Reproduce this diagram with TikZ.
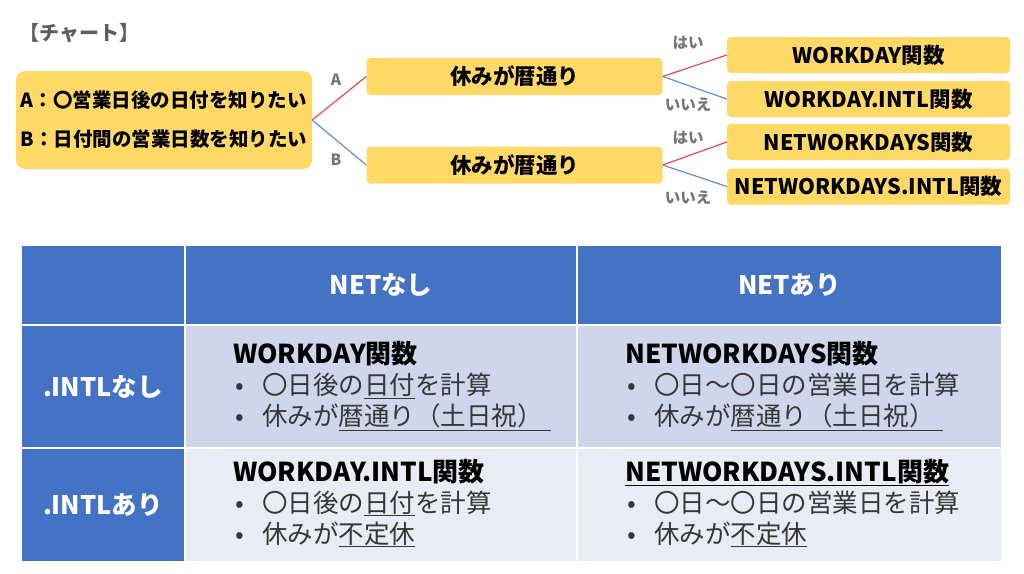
\documentclass[tikz,border=0pt]{standalone}
\usepackage{fontspec}
\setmainfont{Noto Sans CJK JP}
\usepackage{tikz}
\definecolor{boxyellow}{RGB}{255,217,102}
\definecolor{linered}{RGB}{245,70,80}
\definecolor{lineblue}{RGB}{100,140,215}
\definecolor{headblue}{RGB}{68,114,196}
\definecolor{rowone}{RGB}{207,213,234}
\definecolor{rowtwo}{RGB}{233,235,245}
\definecolor{labgray}{RGB}{118,118,118}
\definecolor{bodytext}{RGB}{55,55,55}
\newcommand{\bul}{\makebox[29pt][l]{\hspace{2pt}•}}
\tikzset{
	ybox/.style={rectangle,rounded corners=4pt,fill=boxyellow,inner sep=0pt,font=\bfseries\fontsize{21.5}{25}\selectfont},
	qbox/.style={ybox,rounded corners=9pt,align=left,font=\bfseries\fontsize{19.5}{39}\selectfont},
	redline/.style={draw=linered,line width=1.2pt},
	blueline/.style={draw=lineblue,line width=1.2pt},
	lab/.style={text=labgray,inner sep=0pt,font=\bfseries\fontsize{15.5}{18}\selectfont},
	cell/.style={rectangle,draw=white,line width=1.5pt,inner sep=0pt},
	hcell/.style={cell,fill=headblue,text=white,font=\bfseries\fontsize{25.5}{30}\selectfont},
	rcell/.style={cell,fill=headblue,text=white,font=\bfseries\fontsize{25.5}{30}\selectfont},
	body/.style={anchor=west,inner sep=0pt,align=left,text=bodytext,font=\fontsize{25.5}{31}\selectfont},
}
\begin{document}
\begin{tikzpicture}[x=1pt,y=-1pt]
\useasboundingbox[fill=white] (0,0) rectangle (1024,573);

% chart
\node (ttl) at (19,33) [anchor=west,inner sep=0pt,text=labgray!80!black,font=\bfseries\fontsize{20}{24}\selectfont] {【チャート】};
\node (q) at (164,120) [qbox,minimum width=296,minimum height=98] {A：〇営業日後の日付を知りたい\\B：日付間の営業日数を知りたい};

\node (ha) at (514.5,76.5) [ybox,minimum width=296,minimum height=37] {休みが暦通り};
\node (hb) at (514.5,165) [ybox,minimum width=296,minimum height=37] {休みが暦通り};

\node (r1) at (868.5,55) [ybox,minimum width=283,minimum height=36] {WORKDAY関数};
\node (r2) at (868.5,99) [ybox,minimum width=283,minimum height=36] {WORKDAY.INTL関数};
\node (r3) at (868.5,142) [ybox,minimum width=283,minimum height=36] {NETWORKDAYS関数};
\node (r4) at (868.5,186.5) [ybox,minimum width=283,minimum height=36] {NETWORKDAYS.INTL関数};

\draw[redline] (q.east) -- (ha.west);
\draw[blueline] (q.east) -- (hb.west);
\draw[redline] (ha.east) -- (r1.west);
\draw[blueline] (ha.east) -- (r2.west);
\draw[redline] (hb.east) -- (r3.west);
\draw[blueline] (hb.east) -- (r4.west);

\node (la) at (336,80) [lab] {A};
\node (lb) at (336,160) [lab] {B};
\node (y1) at (688,43) [lab] {はい};
\node (n1) at (688,105) [lab] {いいえ};
\node (y2) at (688,138) [lab] {はい};
\node (n2) at (688,198) [lab] {いいえ};

% table
\node (c00) at (103,285) [hcell,minimum width=164,minimum height=80] {};
\node (c01) at (381,285) [hcell,minimum width=392,minimum height=80] {NETなし};
\node (c02) at (789.5,285) [hcell,minimum width=425,minimum height=80] {NETあり};
\node (c10) at (103,386.5) [rcell,minimum width=164,minimum height=123] {.INTLなし};
\node (c11) at (381,386.5) [cell,fill=rowone,minimum width=392,minimum height=123] {};
\node (c12) at (789.5,386.5) [cell,fill=rowone,minimum width=425,minimum height=123] {};
\node (c20) at (103,505) [rcell,minimum width=164,minimum height=114] {.INTLあり};
\node (c21) at (381,505) [cell,fill=rowtwo,minimum width=392,minimum height=114] {};
\node (c22) at (789.5,505) [cell,fill=rowtwo,minimum width=425,minimum height=114] {};

\node (t11) at (233,386) [body] {{\color{black}\bfseries\fontsize{26}{31}\selectfont WORKDAY関数}\\
  \bul 〇日後の\underline{日付}を計算\\
  \bul 休みが\underline{暦通り（土日祝）\hspace{8pt}}};
\node (t12) at (625,386) [body] {{\color{black}\bfseries\fontsize{26}{31}\selectfont NETWORKDAYS関数}\\
  \bul 〇日～〇日の営業日を計算\\
  \bul 休みが\underline{暦通り（土日祝）\hspace{8pt}}};
\node (t21) at (233,503) [body] {{\color{black}\bfseries\fontsize{26}{31}\selectfont WORKDAY.INTL関数}\\
  \bul 〇日後の\underline{日付}を計算\\
  \bul 休みが\underline{不定休}};
\node (t22) at (625,503) [body] {{\color{black}\bfseries\fontsize{26}{31}\selectfont\underline{NETWORKDAYS.INTL関数}}\\
  \bul 〇日～〇日の営業日を計算\\
  \bul 休みが\underline{不定休}};
\end{tikzpicture}
\end{document}
